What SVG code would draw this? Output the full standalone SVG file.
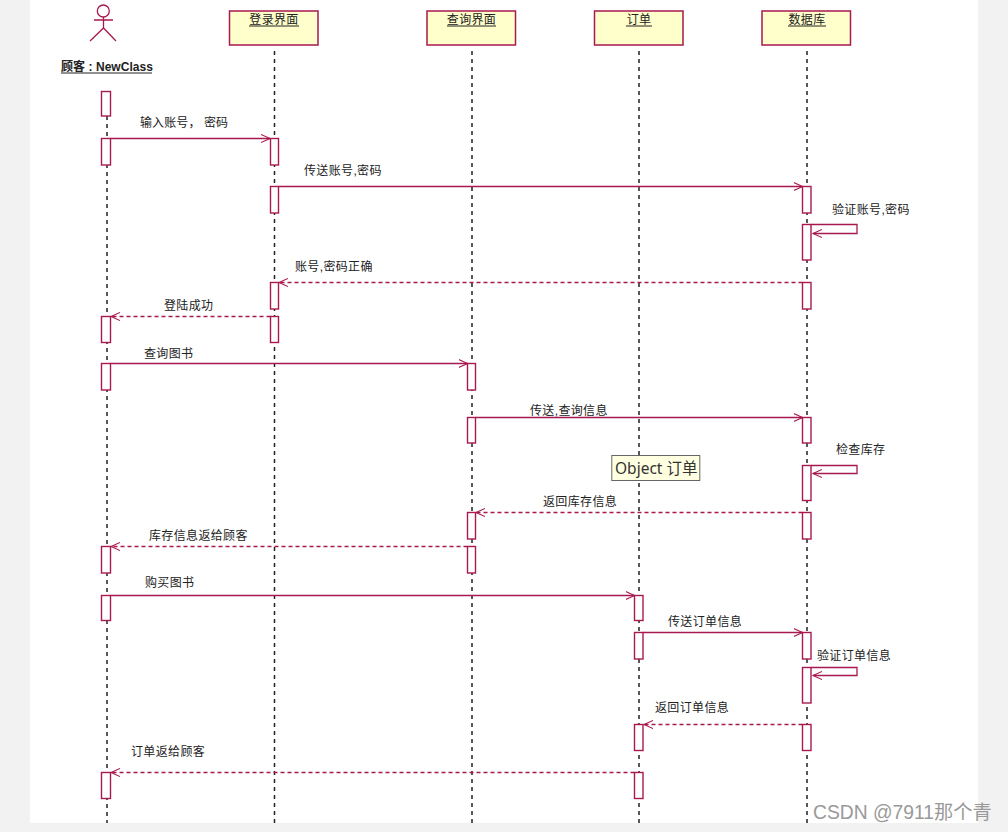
<svg xmlns="http://www.w3.org/2000/svg" width="1008" height="832" viewBox="0 0 1008 832">
<style>
.ln{fill:none;stroke:#a8194f;stroke-width:1.3}
.d{stroke-dasharray:4 3}
.life{fill:none;stroke:#222;stroke-width:1.5;stroke-dasharray:4 4}
.box{fill:#ffffcc;stroke:#a8194f;stroke-width:1.5}
.act{fill:#fff;stroke:#a8194f;stroke-width:1.4}
.t{font-family:"Liberation Sans","Noto Sans CJK SC",sans-serif;font-size:12px;letter-spacing:.35px;fill:#222}
.c{text-anchor:middle}
.u{stroke:#222;fill:none}
</style>
<defs>
<marker id="a" markerWidth="11" markerHeight="11" refX="9" refY="5" orient="auto" markerUnits="userSpaceOnUse"><path d="M0 1L9 5L0 9" fill="none" stroke="#a8194f" stroke-width="1.1"/></marker>
</defs>
<rect width="1008" height="832" fill="#f2f2f2"/>
<rect x="30" y="0" width="948" height="823" fill="#fff"/>
<g id="connectors">
<path class="life" d="M107 116V823"/>
<path class="life" d="M274.500 51V823"/>
<path class="life" d="M472 51V823"/>
<path class="life" d="M639 51V823"/>
<path class="life" d="M807 51V823"/>
<path class="ln" marker-end="url(#a)" d="M110.500 138.500H270"/>
<path class="ln" marker-end="url(#a)" d="M278.500 186.500H802.500"/>
<path class="ln" marker-end="url(#a)" d="M811 224.500H857V233.500H813"/>
<path class="ln d" marker-end="url(#a)" d="M802.500 282.500H279"/>
<path class="ln d" marker-end="url(#a)" d="M270.500 316.500H111"/>
<path class="ln" marker-end="url(#a)" d="M110.500 363.500H467.500"/>
<path class="ln" marker-end="url(#a)" d="M475.500 417.500H802.500"/>
<path class="ln" marker-end="url(#a)" d="M811 465.500H857V473.500H813"/>
<path class="ln d" marker-end="url(#a)" d="M802.500 512.500H476"/>
<path class="ln d" marker-end="url(#a)" d="M467.500 546.500H111"/>
<path class="ln" marker-end="url(#a)" d="M110.500 595.500H634.500"/>
<path class="ln" marker-end="url(#a)" d="M643 632.500H802.500"/>
<path class="ln" marker-end="url(#a)" d="M811 667.500H857V675.500H813"/>
<path class="ln d" marker-end="url(#a)" d="M802.500 724.500H644"/>
<path class="ln d" marker-end="url(#a)" d="M634.500 772.500H111"/>
</g>
<g id="actor">
<circle class="ln" cx="103.300" cy="11" r="6"/>
<path class="ln" d="M94 20H113M103.500 17V28M90 41L103.500 28L116 41"/>
<text class="t" x="61" y="71" font-weight="bold" style="letter-spacing:.05px">顾客 : NewClass</text>
<path class="u" d="M61 73H152"/>
</g>
<g id="login"><rect class="box" x="229.500" y="11" width="88.500" height="34"/><text class="t c" x="274" y="24">登录界面</text><path class="u" d="M249 26H299"/></g>
<g id="query"><rect class="box" x="427" y="11" width="88.500" height="34"/><text class="t c" x="471.500" y="24">查询界面</text><path class="u" d="M447 26H496"/></g>
<g id="order"><rect class="box" x="594.500" y="11" width="88.500" height="34"/><text class="t c" x="639" y="24">订单</text><path class="u" d="M626 26H652"/></g>
<g id="db"><rect class="box" x="762" y="11" width="88.500" height="34"/><text class="t c" x="807" y="24">数据库</text><path class="u" d="M788 26H826"/></g>
<g id="activations">
<rect class="act" x="101.500" y="91.500" width="9" height="24.500"/>
<rect class="act" x="101.500" y="138.500" width="9" height="26.500"/>
<rect class="act" x="101.500" y="316.500" width="9" height="26"/>
<rect class="act" x="101.500" y="363.500" width="9" height="26.500"/>
<rect class="act" x="101.500" y="546.500" width="9" height="26.500"/>
<rect class="act" x="101.500" y="595.500" width="9" height="25"/>
<rect class="act" x="101.500" y="772.500" width="9" height="26"/>
<rect class="act" x="270.500" y="138.500" width="8" height="26.500"/>
<rect class="act" x="270.500" y="186.500" width="8" height="26.500"/>
<rect class="act" x="270.500" y="282.500" width="8" height="26.500"/>
<rect class="act" x="270.500" y="316.500" width="8" height="26"/>
<rect class="act" x="467.500" y="363.500" width="8" height="26.500"/>
<rect class="act" x="467.500" y="417.500" width="8" height="25.500"/>
<rect class="act" x="467.500" y="512.500" width="8" height="26.500"/>
<rect class="act" x="467.500" y="546.500" width="8" height="26.500"/>
<rect class="act" x="634.500" y="595.500" width="8.500" height="25"/>
<rect class="act" x="634.500" y="632.500" width="8.500" height="26.500"/>
<rect class="act" x="634.500" y="724.500" width="8.500" height="26"/>
<rect class="act" x="634.500" y="772.500" width="8.500" height="26"/>
<rect class="act" x="802.500" y="186.500" width="8.500" height="26.500"/>
<rect class="act" x="802.500" y="224.500" width="8.500" height="35.500"/>
<rect class="act" x="802.500" y="282.500" width="8.500" height="26.500"/>
<rect class="act" x="802.500" y="417.500" width="8.500" height="25.500"/>
<rect class="act" x="802.500" y="465.500" width="8.500" height="35"/>
<rect class="act" x="802.500" y="512.500" width="8.500" height="26.500"/>
<rect class="act" x="802.500" y="632.500" width="8.500" height="26.500"/>
<rect class="act" x="802.500" y="667.500" width="8.500" height="35.500"/>
<rect class="act" x="802.500" y="724.500" width="8.500" height="26"/>
</g>
<g id="labels">
<text class="t" x="140" y="127" style="letter-spacing:.1px">输入账号， 密码</text>
<text class="t" x="304" y="175">传送账号,密码</text>
<text class="t" x="832" y="214">验证账号,密码</text>
<text class="t" x="295" y="271">账号,密码正确</text>
<text class="t" x="164" y="310">登陆成功</text>
<text class="t" x="144" y="358">查询图书</text>
<text class="t" x="530" y="415">传送,查询信息</text>
<text class="t" x="836" y="454">检查库存</text>
<text class="t" x="543" y="506">返回库存信息</text>
<text class="t" x="149" y="540">库存信息返给顾客</text>
<text class="t" x="145" y="587">购买图书</text>
<text class="t" x="668" y="626">传送订单信息</text>
<text class="t" x="817" y="660">验证订单信息</text>
<text class="t" x="655" y="712">返回订单信息</text>
<text class="t" x="131" y="756">订单返给顾客</text>
</g>
<g id="tooltip">
<rect x="611.800" y="455.500" width="88" height="25" fill="#ffffe1" stroke="#666" stroke-width="1"/>
<text x="615" y="474" font-family="'Noto Sans','Noto Sans CJK SC',sans-serif" font-size="15.500" fill="#333">Object 订单</text>
</g>
<text x="813" y="819" font-family="'Liberation Sans','Noto Sans CJK SC',sans-serif" font-size="19.300" fill="#999">CSDN @7911那个青</text>
</svg>
